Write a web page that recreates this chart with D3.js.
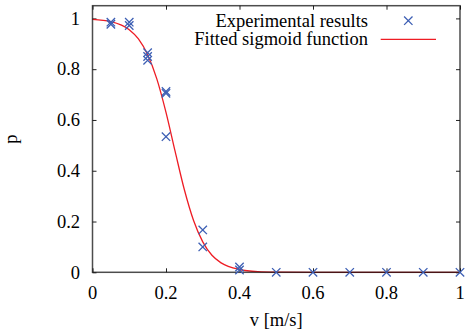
<!DOCTYPE html>
<html>
<head>
<meta charset="utf-8">
<script src="https://cdn.jsdelivr.net/npm/d3@7"></script>
<style>
	body { margin: 0; background: #fff; }
</style>
</head>
<body>
<div id="chart"></div>
<script>
// measured points (velocity, probability)
var expV = [0.05, 0.05, 0.1, 0.1, 0.15, 0.15, 0.15, 0.2, 0.2, 0.2, 0.3, 0.3, 0.4, 0.4, 0.5, 0.6, 0.7, 0.8, 0.9, 1.0];
var expP = [0.985, 0.977, 0.985, 0.972, 0.865, 0.85, 0.835, 0.712, 0.705, 0.534, 0.167, 0.10, 0.021, 0.009, 0, 0, 0, 0, 0, 0];

// fitted sigmoid
var fitV = [0, 0.05, 0.1, 0.125, 0.15, 0.175, 0.2, 0.225, 0.25, 0.275, 0.3, 0.325, 0.35, 0.4, 0.45, 0.5, 0.6, 1.0];
var fitP = [0.996, 0.987, 0.955, 0.919, 0.857, 0.762, 0.63, 0.475, 0.325, 0.204, 0.12, 0.067, 0.037, 0.011, 0.003, 0.001, 0, 0];

var xTicks = [0, 0.2, 0.4, 0.6, 0.8, 1];
var yTicks = [0, 0.2, 0.4, 0.6, 0.8, 1];
var legendLabels = ['Experimental results', 'Fitted sigmoid function'];

var BLUE = '#3d5fb4';
var RED = '#ee1c24';
var FONT = "'Liberation Serif', serif";
var FONT_SIZE = 18.5;

var width = 465,
	height = 336,
	margin = { top: 5.7, right: 5, bottom: 63.7, left: 92.5 };

var svg = d3.select('#chart').append('svg')
	.attr('width', width)
	.attr('height', height);

var x = d3.scaleLinear()
	.domain([0, 1])
	.range([margin.left, width - margin.right]);

var y = d3.scaleLinear()
	.domain([0, 1.05])
	.range([height - margin.bottom, margin.top]);

var fmt = function (d) { return d === 0 || d === 1 ? String(d) : d.toFixed(1); };

// axes (ticks inward, mirrored on top and right)
svg.append('g')
	.attr('transform', 'translate(' + x(0) + ',0)')
	.call(d3.axisRight(y).tickValues(yTicks).tickSize(4).tickFormat(''));
svg.append('g')
	.attr('transform', 'translate(' + x(1) + ',0)')
	.call(d3.axisLeft(y).tickValues(yTicks).tickSize(4).tickFormat(''));
svg.append('g')
	.attr('transform', 'translate(0,' + margin.top + ')')
	.call(d3.axisBottom(x).tickValues(xTicks).tickSize(4).tickFormat(''));
svg.append('g')
	.attr('transform', 'translate(0,' + y(0) + ')')
	.call(d3.axisTop(x).tickValues(xTicks).tickSize(4).tickFormat(''));

svg.selectAll('.domain').remove();
svg.selectAll('.tick line').attr('stroke', '#222').attr('stroke-width', 1);

// tick labels
svg.append('g').selectAll('text')
	.data(yTicks)
	.enter().append('text')
	.attr('x', x(0) - 12.5)
	.attr('y', function (d) { return y(d); })
	.attr('dy', '0.34em')
	.attr('text-anchor', 'end')
	.attr('font-size', FONT_SIZE)
	.style('font-family', FONT)
	.text(fmt);

svg.append('g').selectAll('text')
	.data(xTicks)
	.enter().append('text')
	.attr('x', function (d) { return x(d); })
	.attr('y', 299)
	.attr('text-anchor', 'middle')
	.attr('font-size', FONT_SIZE)
	.style('font-family', FONT)
	.text(fmt);

// axis titles
svg.append('text')
	.attr('x', (x(0) + x(1)) / 2)
	.attr('y', 326)
	.attr('text-anchor', 'middle')
	.attr('font-size', FONT_SIZE)
	.style('font-family', FONT)
	.text('v [m/s]');

svg.append('text')
	.attr('transform', 'translate(17,' + ((y(0) + y(1.05)) / 2) + ') rotate(-90)')
	.attr('text-anchor', 'middle')
	.attr('font-size', FONT_SIZE)
	.style('font-family', FONT)
	.text('p');

// fitted curve
var fitData = fitV.map(function (v, i) { return { v: v, p: fitP[i] }; });
var line = d3.line()
	.curve(d3.curveMonotoneX)
	.x(function (d) { return x(d.v); })
	.y(function (d) { return y(d.p); });

svg.append('path')
	.datum(fitData)
	.attr('fill', 'none')
	.attr('stroke', RED)
	.attr('stroke-width', 1.3)
	.attr('d', line);

// border box on top
svg.append('rect')
	.attr('x', x(0))
	.attr('y', y(1.05))
	.attr('width', x(1) - x(0))
	.attr('height', y(0) - y(1.05))
	.attr('fill', 'none')
	.attr('stroke', '#111')
	.attr('stroke-opacity', 0.75)
	.attr('stroke-width', 1.5);

// experimental crosses
var expData = expV.map(function (v, i) { return { v: v, p: expP[i] }; });
var s = 4.2;
function crossAt(cx, cy) {
	return 'M' + (cx - s) + ',' + (cy - s) + 'L' + (cx + s) + ',' + (cy + s) +
		'M' + (cx - s) + ',' + (cy + s) + 'L' + (cx + s) + ',' + (cy - s);
}
svg.append('g').selectAll('path')
	.data(expData)
	.enter().append('path')
	.attr('d', function (d) { return crossAt(x(d.v), y(d.p)); })
	.attr('fill', 'none')
	.attr('stroke', BLUE)
	.attr('stroke-width', 1.3);

// legend
var legend = svg.append('g');
legend.selectAll('text')
	.data(legendLabels)
	.enter().append('text')
	.attr('x', 368)
	.attr('y', function (d, i) { return 26.5 + i * 18.5; })
	.attr('text-anchor', 'end')
	.attr('font-size', FONT_SIZE)
	.style('font-family', FONT)
	.text(function (d) { return d; });
legend.append('path')
	.attr('d', crossAt(408.3, 20.7))
	.attr('fill', 'none')
	.attr('stroke', BLUE)
	.attr('stroke-width', 1.3);
legend.append('line')
	.attr('x1', 380.7)
	.attr('x2', 436)
	.attr('y1', 39.3)
	.attr('y2', 39.3)
	.attr('stroke', RED)
	.attr('stroke-width', 1.3);
</script>
</body>
</html>
